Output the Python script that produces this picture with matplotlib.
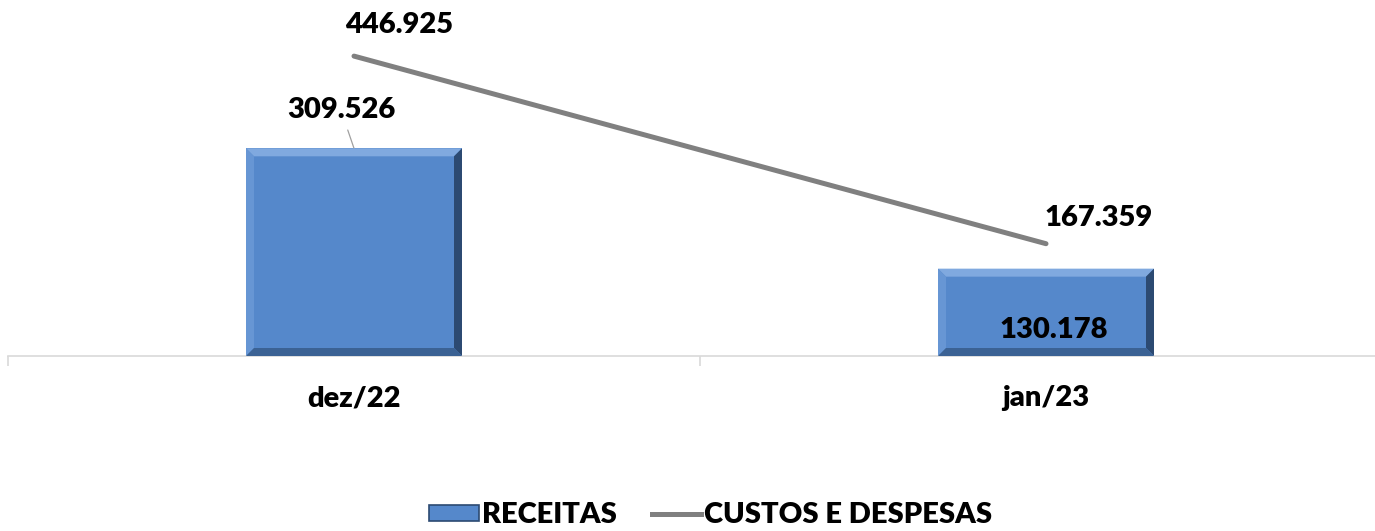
import numpy as np
import matplotlib
matplotlib.use("Agg")
import matplotlib.pyplot as plt
from matplotlib.patches import Polygon, Patch
from matplotlib.lines import Line2D
from matplotlib.transforms import IdentityTransform

MESES = ["dez/22", "jan/23"]
RECEITAS = [309.526, 130.178]
CUSTOS = [446.925, 167.359]

BAR_COLOR = "#5588CB"
LINE_COLOR = "#808080"
AXIS_COLOR = "#D9D9D9"

plt.rcParams["font.family"] = ["Lato", "DejaVu Sans"]
plt.rcParams["font.weight"] = "heavy"
FS = 21

W, H = 1375, 531
fig = plt.figure(figsize=(W / 100, H / 100), dpi=100)
ax = fig.add_axes([8 / W, 175 / H, 1384 / W, 335.5 / H])

x = np.arange(len(MESES))
ax.set_xlim(-0.5, len(MESES) - 0.5)
ax.set_ylim(0, 500)

bars = ax.bar(x, RECEITAS, width=216 / 692, color=BAR_COLOR, zorder=2)
ax.plot(x, CUSTOS, color=LINE_COLOR, lw=3.6, solid_capstyle="round", zorder=3)

# spines / ticks
for s in ["top", "left", "right"]:
    ax.spines[s].set_visible(False)
ax.spines["bottom"].set_color(AXIS_COLOR)
ax.spines["bottom"].set_linewidth(1.2)
ax.set_yticks([])
ax.set_xticks(x)
ax.set_xticklabels(MESES, fontsize=FS, fontweight="heavy")
ax.set_xticks(np.arange(-0.5, len(MESES)), minor=True)
ax.tick_params(axis="x", which="major", length=0, pad=21)
ax.tick_params(axis="x", which="minor", length=7, color=AXIS_COLOR, width=1.2)

# bevel look on the bars
fig.canvas.draw()
b = 8
for bar in bars:
    x0, y0, x1, y1 = bar.get_window_extent().extents
    sides = [
        ([(x0, y1), (x1, y1), (x1 - b, y1 - b), (x0 + b, y1 - b)], "#80A9DF"),
        ([(x0, y0), (x0, y1), (x0 + b, y1 - b), (x0 + b, y0 + b)], "#6796D4"),
        ([(x1, y0), (x1, y1), (x1 - b, y1 - b), (x1 - b, y0 + b)], "#2C4A72"),
        ([(x0, y0), (x1, y0), (x1 - b, y0 + b), (x0 + b, y0 + b)], "#3B6294"),
    ]
    for pts, c in sides:
        fig.add_artist(Polygon(pts, closed=True, facecolor=c, edgecolor="none",
                               transform=IdentityTransform(), zorder=2.5))

px = 0.72  # pixels -> points
ax.annotate("309.526", xy=(x[0], RECEITAS[0]), xytext=(-13 * px, 38 * px),
            textcoords="offset points", ha="center", va="center", fontsize=FS,
            arrowprops=dict(arrowstyle="-", color="#A0A0A0", lw=0.9,
                            shrinkA=3, shrinkB=0))
ax.annotate("130.178", xy=(x[1], RECEITAS[1]), xytext=(8 * px, -61 * px),
            textcoords="offset points", ha="center", va="center", fontsize=FS,
            zorder=5)
ax.annotate("446.925", xy=(x[0], CUSTOS[0]), xytext=(45 * px, 31 * px),
            textcoords="offset points", ha="center", va="center", fontsize=FS)
ax.annotate("167.359", xy=(x[1], CUSTOS[1]), xytext=(53 * px, 26 * px),
            textcoords="offset points", ha="center", va="center", fontsize=FS)

handles = [Patch(facecolor=BAR_COLOR, edgecolor="#2C4A72", lw=1.2),
           Line2D([], [], color=LINE_COLOR, lw=3.6)]
fig.legend(handles, ["RECEITAS", "CUSTOS E DESPESAS"], loc="center",
           bbox_to_anchor=(711 / W, 1 - 515 / H), ncol=2, frameon=False,
           fontsize=FS, handlelength=1.7, handleheight=0.48,
           handletextpad=0.1, columnspacing=1.2)

fig.savefig("out.png", dpi=100)
